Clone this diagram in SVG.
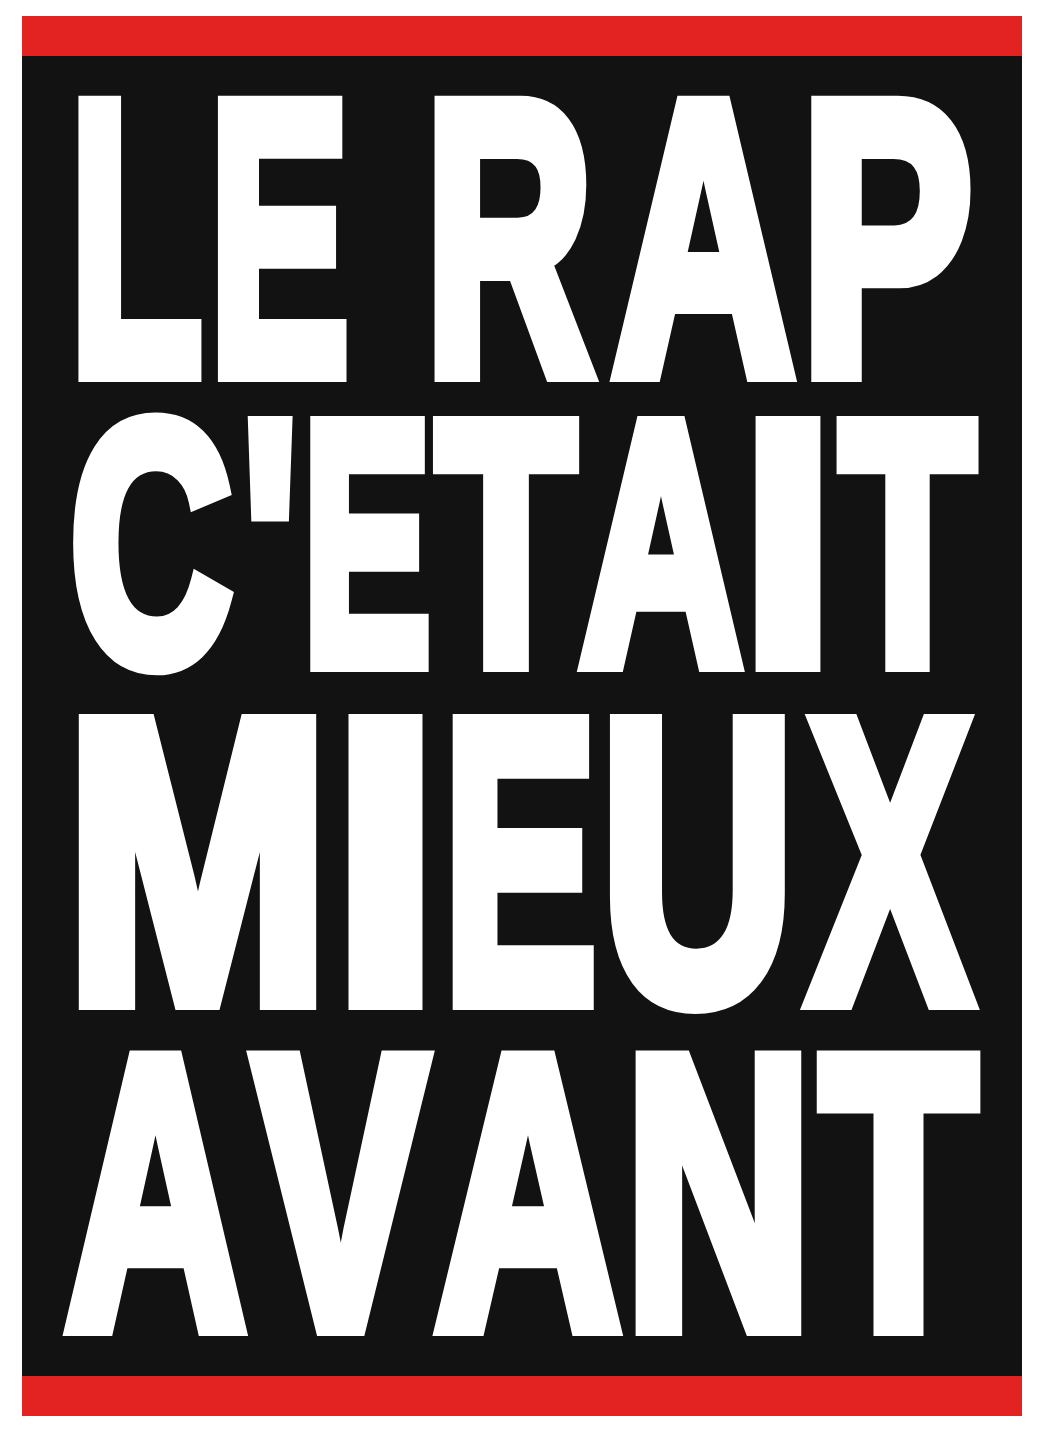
<svg xmlns="http://www.w3.org/2000/svg" width="1042" height="1438" viewBox="0 0 1042 1438">
<style>
.t{font-family:"Liberation Sans",Arial,sans-serif;font-weight:bold;fill:#ffffff;stroke:#ffffff;stroke-width:20;stroke-linejoin:miter;stroke-miterlimit:4;text-anchor:middle}
.l1{font-size:387px}
.l2{font-size:343px}
.l3{font-size:401px}
.l4{font-size:386px}
</style>
<rect x="0" y="0" width="1042" height="1438" fill="#ffffff"/>
<rect x="22" y="16" width="1000" height="1400" fill="#121212"/>
<rect x="22" y="16" width="1000" height="40" fill="#e32322"/>
<rect x="22" y="1376" width="1000" height="40" fill="#e32322"/>
<g id="line1">
<text class="t l1" x="136" y="372" textLength="133" lengthAdjust="spacingAndGlyphs">L</text>
<text class="t l1" x="279.3" y="372" textLength="140" lengthAdjust="spacingAndGlyphs">E</text>
<text class="t l1" x="509" y="372" textLength="168" lengthAdjust="spacingAndGlyphs">R</text>
<text class="t l1" x="703.5" y="372" textLength="182" lengthAdjust="spacingAndGlyphs">A</text>
<text class="t l1" x="886.7" y="372" textLength="172" lengthAdjust="spacingAndGlyphs">P</text>
</g>
<g id="line2">
<text class="t l2" x="151" y="662" textLength="161" lengthAdjust="spacingAndGlyphs">C</text>
<text class="t l2" x="270" y="662" textLength="55" lengthAdjust="spacingAndGlyphs">'</text>
<text class="t l2" x="366.8" y="662" textLength="127.5" lengthAdjust="spacingAndGlyphs">E</text>
<text class="t l2" x="506" y="662" textLength="138" lengthAdjust="spacingAndGlyphs">T</text>
<text class="t l2" x="661" y="662" textLength="161" lengthAdjust="spacingAndGlyphs">A</text>
<text class="t l2" x="788" y="662" textLength="89" lengthAdjust="spacingAndGlyphs">I</text>
<text class="t l2" x="907.5" y="662" textLength="134" lengthAdjust="spacingAndGlyphs">T</text>
</g>
<g id="line3">
<text class="t l3" x="197.5" y="1000" textLength="264" lengthAdjust="spacingAndGlyphs">M</text>
<text class="t l3" x="385.5" y="1000" textLength="106" lengthAdjust="spacingAndGlyphs">I</text>
<text class="t l3" x="520" y="1000" textLength="154" lengthAdjust="spacingAndGlyphs">E</text>
<text class="t l3" x="697.5" y="1000" textLength="194" lengthAdjust="spacingAndGlyphs">U</text>
<text class="t l3" x="890" y="1000" textLength="162" lengthAdjust="spacingAndGlyphs">X</text>
</g>
<g id="line4">
<text class="t l4" x="155.5" y="1326" textLength="180" lengthAdjust="spacingAndGlyphs">A</text>
<text class="t l4" x="340.5" y="1326" textLength="173" lengthAdjust="spacingAndGlyphs">V</text>
<text class="t l4" x="528" y="1326" textLength="185" lengthAdjust="spacingAndGlyphs">A</text>
<text class="t l4" x="718.5" y="1326" textLength="187" lengthAdjust="spacingAndGlyphs">N</text>
<text class="t l4" x="898.5" y="1326" textLength="156" lengthAdjust="spacingAndGlyphs">T</text>
</g>
</svg>
